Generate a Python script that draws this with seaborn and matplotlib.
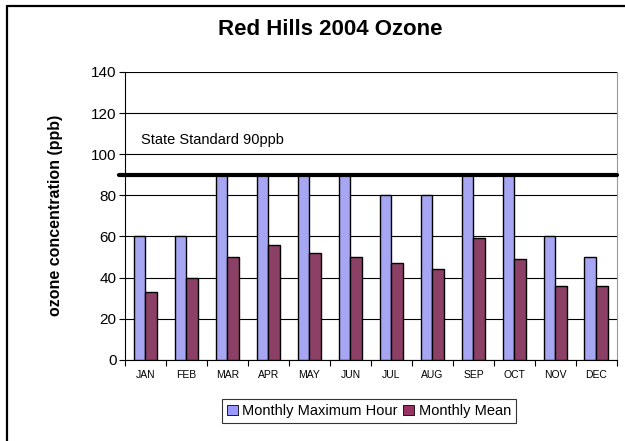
import pandas as pd
import numpy as np
import matplotlib.pyplot as plt
import seaborn as sns
from matplotlib.patches import Rectangle
from matplotlib.lines import Line2D

months = ["JAN", "FEB", "MAR", "APR", "MAY", "JUN", "JUL", "AUG", "SEP", "OCT", "NOV", "DEC"]
max_hour = [60, 60, 90, 90, 90, 90, 80, 80, 90, 90, 60, 50]
monthly_mean = [33, 40, 50, 56, 52, 50, 47, 44, 59, 49, 36, 36]
standard = 90

df = pd.DataFrame({
    "month": months * 2,
    "ozone": max_hour + monthly_mean,
    "series": ["Monthly Maximum Hour"] * 12 + ["Monthly Mean"] * 12,
})

sns.set_style("white")
plt.rcParams["font.family"] = ["Liberation Sans", "DejaVu Sans"]
plt.rcParams.update({"text.color": "black", "axes.labelcolor": "black",
                     "xtick.color": "black", "ytick.color": "black"})

fig = plt.figure(figsize=(6.25, 4.41), dpi=100)
ax = fig.add_axes([0.2, 0.184, 0.787, 0.653])

palette = {"Monthly Maximum Hour": "#9999FF", "Monthly Mean": "#993366"}
sns.barplot(data=df, x="month", y="ozone", hue="series", palette=palette,
            width=0.58, edgecolor="black", linewidth=1.0, ax=ax, legend=False,
            zorder=3)

ax.set_ylim(0, 140)
ax.set_xlim(-0.5, 11.5)
ax.set_yticks(range(0, 141, 20))
ax.tick_params(axis="y", labelsize=11, length=4, direction="out", left=True, width=0.8, pad=2)
ax.tick_params(axis="x", which="major", labelsize=7.5, length=0, pad=7)
ax.set_xticks(np.arange(-0.5, 12, 1), minor=True)
ax.tick_params(axis="x", which="minor", length=4, width=0.8, bottom=True, direction="out")
ax.yaxis.grid(True, color="black", linewidth=0.8, zorder=0)
ax.set_axisbelow(True)

for side in ["left", "bottom"]:
    ax.spines[side].set_color("black")
    ax.spines[side].set_linewidth(0.8)
ax.spines["top"].set_visible(False)
ax.spines["right"].set_color("#999999")
ax.spines["right"].set_linewidth(0.8)

ax.set_xlabel("")
ax.set_ylabel("ozone concentration (ppb)", fontsize=11.5, fontweight="bold", labelpad=20)

ax.axhline(standard, xmin=-0.013, xmax=1.0, color="black", linewidth=3, zorder=5, clip_on=False)
ax.text(-0.1, 107, "State Standard 90ppb", fontsize=10.5, va="center", ha="left")

fig.text(0.528, 0.932, "Red Hills 2004 Ozone", fontsize=16, fontweight="bold", ha="center", va="center")

handles = [Rectangle((0, 0), 1, 1, facecolor=palette[k], edgecolor="black", linewidth=0.6) for k in palette]
leg = fig.legend(handles, list(palette.keys()), loc="center", bbox_to_anchor=(0.59, 0.068),
                 ncol=2, fontsize=10.5, frameon=True, fancybox=False, edgecolor="black",
                 handlelength=0.75, handleheight=0.75, handletextpad=0.3, columnspacing=0.4,
                 borderpad=0.35)
leg.get_frame().set_linewidth(0.8)

# outer chart border: only left and top edges are visible
fig.add_artist(Line2D([7 / 625, 7 / 625], [0, 1 - 6 / 441], transform=fig.transFigure, color="black", linewidth=1.6))
fig.add_artist(Line2D([7 / 625, 1], [1 - 6 / 441, 1 - 6 / 441], transform=fig.transFigure, color="black", linewidth=1.6))

fig.savefig("out.png", dpi=100)
